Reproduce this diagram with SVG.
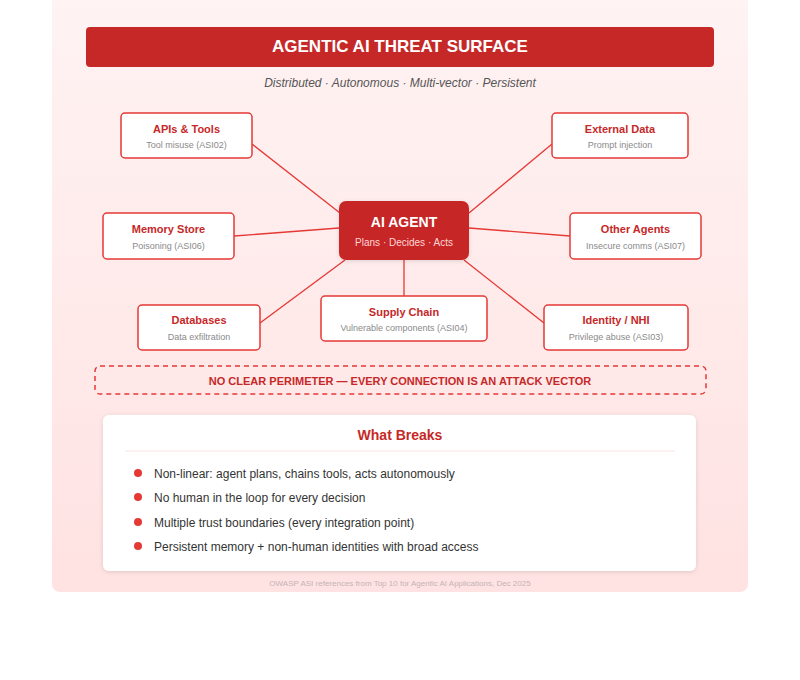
<svg xmlns="http://www.w3.org/2000/svg" width="800" height="680" viewBox="0 0 800 680">
<style>
text{font-family:"Liberation Sans",Arial,sans-serif}
.box{fill:#fff;stroke:#e53935;stroke-width:1.5}
.t{font-size:11px;font-weight:bold;fill:#c62828;text-anchor:middle}
.s{font-size:9px;fill:#8a8a8a;text-anchor:middle}
.ln{stroke:#e53935;stroke-width:1.3;fill:none}
.b{font-size:12px;fill:#333}
.dot{fill:#e53935}
</style>
<defs>
<linearGradient id="bg" x1="0" y1="0" x2="0" y2="1"><stop offset="0" stop-color="#fff3f3"/><stop offset="1" stop-color="#ffe2e2"/></linearGradient>
<filter id="sh" x="-10%" y="-10%" width="120%" height="130%"><feDropShadow dx="0" dy="1" stdDeviation="2" flood-color="#000" flood-opacity="0.12"/></filter>
</defs>
<rect x="0" y="0" width="800" height="680" fill="#fff"/>
<rect x="52" y="-8" width="696" height="600" rx="8" fill="url(#bg)"/>
<g id="title">
<rect x="86" y="27" width="628" height="40" rx="4" fill="#c62828"/>
<text x="400" y="52" font-size="17" font-weight="bold" fill="#fff" text-anchor="middle">AGENTIC AI THREAT SURFACE</text>
<text x="400" y="87" font-size="12" font-style="italic" fill="#555" text-anchor="middle">Distributed · Autonomous · Multi-vector · Persistent</text>
</g>
<g id="connectors">
<line class="ln" x1="252" y1="144" x2="340" y2="213"/>
<line class="ln" x1="552" y1="144" x2="469" y2="213"/>
<line class="ln" x1="234" y1="236" x2="339" y2="228"/>
<line class="ln" x1="570" y1="236" x2="469" y2="228"/>
<line class="ln" x1="260" y1="323" x2="345" y2="260"/>
<line class="ln" x1="404" y1="260" x2="404" y2="296"/>
<line class="ln" x1="544" y1="323" x2="464" y2="260"/>
</g>
<g id="agent">
<rect x="339" y="201" width="130" height="59" rx="7" fill="#c62828" filter="url(#sh)"/>
<text x="404" y="227" font-size="14" font-weight="bold" fill="#fff" text-anchor="middle">AI AGENT</text>
<text x="404" y="246" font-size="10" fill="#ffd7d7" text-anchor="middle">Plans · Decides · Acts</text>
</g>
<g id="apis"><rect class="box" x="121" y="113" width="131" height="45" rx="4"/><text class="t" x="186.5" y="133">APIs &amp; Tools</text><text class="s" x="186.5" y="148">Tool misuse (ASI02)</text></g>
<g id="external"><rect class="box" x="552" y="113" width="136" height="45" rx="4"/><text class="t" x="620" y="133">External Data</text><text class="s" x="620" y="148">Prompt injection</text></g>
<g id="memory"><rect class="box" x="103" y="213" width="131" height="46" rx="4"/><text class="t" x="168.5" y="233">Memory Store</text><text class="s" x="168.5" y="249">Poisoning (ASI06)</text></g>
<g id="others"><rect class="box" x="570" y="213" width="131" height="46" rx="4"/><text class="t" x="635.5" y="233">Other Agents</text><text class="s" x="635.5" y="249">Insecure comms (ASI07)</text></g>
<g id="databases"><rect class="box" x="138" y="305" width="122" height="45" rx="4"/><text class="t" x="199" y="324">Databases</text><text class="s" x="199" y="340">Data exfiltration</text></g>
<g id="supply"><rect class="box" x="321" y="296" width="166" height="45" rx="4"/><text class="t" x="404" y="316">Supply Chain</text><text class="s" x="404" y="331">Vulnerable components (ASI04)</text></g>
<g id="identity"><rect class="box" x="544" y="305" width="144" height="45" rx="4"/><text class="t" x="616" y="324">Identity / NHI</text><text class="s" x="616" y="340">Privilege abuse (ASI03)</text></g>
<g id="perimeter">
<rect x="95" y="366" width="611" height="28" rx="5" fill="none" stroke="#e53935" stroke-width="1.5" stroke-dasharray="5,4"/>
<text x="400" y="385" font-size="11" font-weight="bold" fill="#c62828" text-anchor="middle">NO CLEAR PERIMETER — EVERY CONNECTION IS AN ATTACK VECTOR</text>
</g>
<g id="breaks">
<rect x="103" y="415" width="593" height="156" rx="6" fill="#fff" filter="url(#sh)"/>
<text x="400" y="440" font-size="14" font-weight="bold" fill="#c62828" text-anchor="middle">What Breaks</text>
<line x1="125" y1="451" x2="675" y2="451" stroke="#fde3e3" stroke-width="1"/>
<circle class="dot" cx="138" cy="473" r="4"/><text class="b" x="154" y="478">Non-linear: agent plans, chains tools, acts autonomously</text>
<circle class="dot" cx="138" cy="497" r="4"/><text class="b" x="154" y="502">No human in the loop for every decision</text>
<circle class="dot" cx="138" cy="522" r="4"/><text class="b" x="154" y="527">Multiple trust boundaries (every integration point)</text>
<circle class="dot" cx="138" cy="546" r="4"/><text class="b" x="154" y="551">Persistent memory + non-human identities with broad access</text>
</g>
<text x="400" y="586" font-size="8" fill="#c4b4b4" text-anchor="middle">OWASP ASI references from Top 10 for Agentic AI Applications, Dec 2025</text>
</svg>
